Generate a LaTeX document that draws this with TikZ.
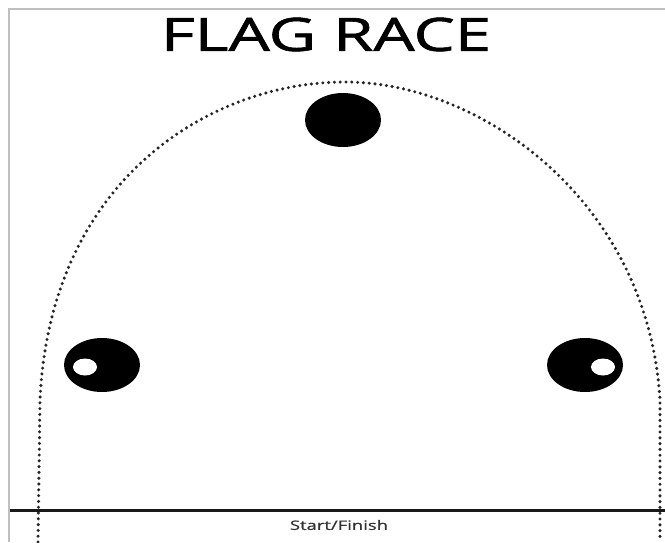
\documentclass[tikz,border=0pt]{standalone}
\usepackage{fontspec}
\setmainfont{Open Sans}
\begin{document}
\begin{tikzpicture}[x=1pt,y=-1pt,
  track/.style={draw=black!85,line width=3.4pt,line cap=round,dash pattern=on 0pt off 5.8pt},
  frame/.style={draw=black!25,line width=1.6pt}]
\useasboundingbox (0,0) rectangle (665,542);
\fill[white] (0,0) rectangle (665,542);
\draw[frame] (9,542) -- (9,9) -- (665,9);
\node[font=\fontsize{46}{50}\selectfont\addfontfeature{FakeBold=1.2},inner sep=0pt] (title) at (326,34.5) {\scalebox{1.42}[1]{FLAG RACE}};
\draw[track] (38,542) -- (40,400) .. controls (50,180) and (210,82) .. (345,82)
  .. controls (480,82) and (648,200) .. (660,400) -- (660,542);
\coordinate (lineL) at (10,510);
\coordinate (lineR) at (665,510);
\draw[line width=3pt,black!90] (lineL) -- (lineR);
\node[font=\fontsize{13}{15}\selectfont\addfontfeature{FakeBold=0.6},black!80,inner sep=0pt] (start) at (339,525) {\scalebox{1.42}[1]{Start/Finish}};
\fill (343,120) ellipse [x radius=38, y radius=27];
\fill (102,365) ellipse [x radius=38, y radius=27];
\fill[white] (85,367) ellipse [x radius=12, y radius=8.5];
\fill (585,365) ellipse [x radius=38, y radius=27];
\fill[white] (603,367) ellipse [x radius=12, y radius=8.5];
\end{tikzpicture}
\end{document}
